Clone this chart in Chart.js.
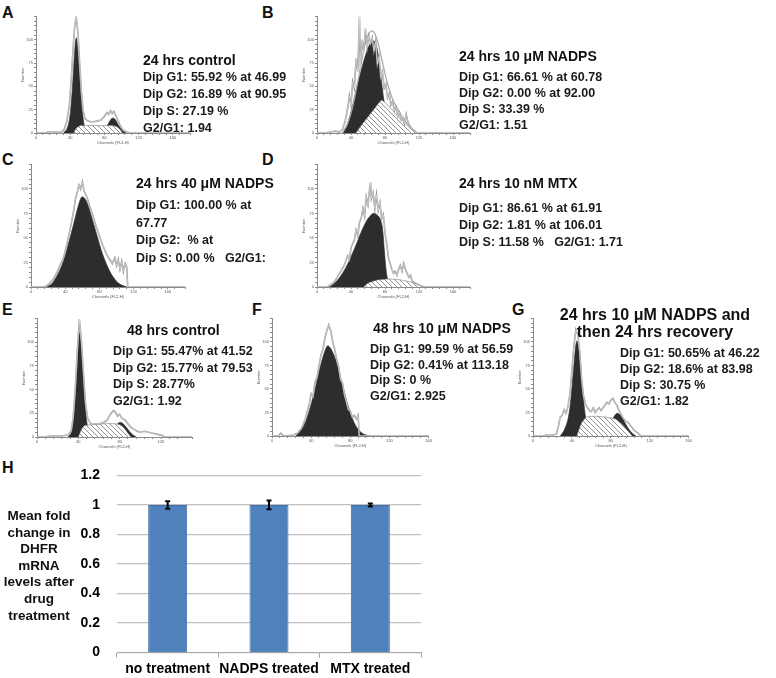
<!DOCTYPE html>
<html>
<head>
<meta charset="utf-8">
<script src="https://cdn.jsdelivr.net/npm/chart.js@4.4.0/dist/chart.umd.min.js"></script>
<style>
  body { margin: 0; background: #fff; }
  #fig { position: relative; width: 776px; height: 678px; overflow: hidden; font-family: "Liberation Sans", Arial, sans-serif; color: #111; }
  #fig canvas { position: absolute; }
  .lab { position: absolute; font-weight: bold; font-size: 16px; line-height: 16px; }
  .ttl { position: absolute; font-weight: bold; font-size: 14px; line-height: 14px; white-space: nowrap; }
  .txt { position: absolute; font-weight: bold; font-size: 12.5px; white-space: nowrap; color: #1a1a1a; }
  .ytitle { position: absolute; left: 0; width: 78px; top: 508px; text-align: center; font-weight: bold; font-size: 13.5px; line-height: 16.6px; }
</style>
</head>
<body>
<div id="fig">
  <div class="lab" style="left:2px;top:5px">A</div>
  <div class="lab" style="left:262px;top:5px">B</div>
  <div class="lab" style="left:2px;top:152px">C</div>
  <div class="lab" style="left:262px;top:152px">D</div>
  <div class="lab" style="left:2px;top:302px">E</div>
  <div class="lab" style="left:252px;top:302px">F</div>
  <div class="lab" style="left:512px;top:302px">G</div>
  <div class="lab" style="left:2px;top:460px">H</div>

  <canvas id="histA"></canvas>
  <canvas id="histB"></canvas>
  <canvas id="histC"></canvas>
  <canvas id="histD"></canvas>
  <canvas id="histE"></canvas>
  <canvas id="histF"></canvas>
  <canvas id="histG"></canvas>
  <canvas id="barH"></canvas>

  <div class="ttl" style="left:143px;top:53px">24 hrs control</div>
  <div class="txt" style="left:143px;top:69px;line-height:17px">Dip G1: 55.92 % at 46.99<br>Dip G2: 16.89 % at 90.95<br>Dip S: 27.19 %<br>G2/G1: 1.94</div>

  <div class="ttl" style="left:459px;top:49px">24 hrs 10 &mu;M NADPS</div>
  <div class="txt" style="left:459px;top:69px;line-height:16px">Dip G1: 66.61 % at 60.78<br>Dip G2: 0.00 % at 92.00<br>Dip S: 33.39 %<br>G2/G1: 1.51</div>

  <div class="ttl" style="left:136px;top:176px">24 hrs 40 &mu;M NADPS</div>
  <div class="txt" style="left:136px;top:197px;line-height:17.7px">Dip G1: 100.00 % at<br>67.77<br>Dip G2:&nbsp; % at<br>Dip S: 0.00 %&nbsp;&nbsp; G2/G1:</div>

  <div class="ttl" style="left:459px;top:176px">24 hrs 10 nM MTX</div>
  <div class="txt" style="left:459px;top:200px;line-height:17px">Dip G1: 86.61 % at 61.91<br>Dip G2: 1.81 % at 106.01<br>Dip S: 11.58 %&nbsp;&nbsp; G2/G1: 1.71</div>

  <div class="ttl" style="left:127px;top:323px">48 hrs control</div>
  <div class="txt" style="left:113px;top:343px;line-height:16.7px">Dip G1: 55.47% at 41.52<br>Dip G2: 15.77% at 79.53<br>Dip S: 28.77%<br>G2/G1: 1.92</div>

  <div class="ttl" style="left:373px;top:321px">48 hrs 10 &mu;M NADPS</div>
  <div class="txt" style="left:370px;top:342px;line-height:15.7px">Dip G1: 99.59 % at 56.59<br>Dip G2: 0.41% at 113.18<br>Dip S: 0 %<br>G2/G1: 2.925</div>

  <div class="ttl" style="left:536px;top:306px;width:238px;text-align:center;font-size:16px;line-height:17px">24 hrs 10 &mu;M NADPS and<br>then 24 hrs recovery</div>
  <div class="txt" style="left:620px;top:345px;line-height:16px">Dip G1: 50.65% at 46.22<br>Dip G2: 18.6% at 83.98<br>Dip S: 30.75 %<br>G2/G1: 1.82</div>

  <div class="ytitle">Mean fold<br>change in<br>DHFR<br>mRNA<br>levels after<br>drug<br>treatment</div>
</div>

<script>
// ---- DNA histograms: [channel, count] pairs ----
// A: 24 hrs control
var aTotal = [[0,0],[10,0],[14,1],[20,1],[26,1],[30,1],[33,4],[36,12],[39,30],[41,55],[43,85],[45,112],[47,125],[49,108],[51,75],[53,45],[55,25],[57,16],[60,13],[64,12],[68,12],[72,13],[76,14],[80,18],[83,22],[85,20],[87,24],[89,21],[91,23],[93,19],[96,13],[99,7],[102,3],[106,1],[110,0],[180,0]];
var aG1 = [[32,0],[36,4],[39,14],[41,30],[43,55],[45,85],[47,102],[49,88],[51,60],[53,34],[55,16],[57,6],[59,0]];
var aS = [[44,0],[47,5],[52,8],[60,8],[70,8],[80,8],[88,8],[94,7],[98,4],[101,0]];
var aG2 = [[78,0],[81,4],[84,9],[87,14],[90,16],[93,14],[96,9],[99,5],[102,2],[106,0]];

// B: 24 hrs 10 uM NADPS
var bTotal = [[0,0],[10,0],[16,1],[22,2],[26,1],[30,4],[33,12],[36,26],[38,40],[40,30],[42,55],[44,48],[46,80],[48,66],[50,125],[51,70],[53,100],[55,86],[57,112],[59,92],[61,104],[63,96],[65,102],[67,88],[69,98],[71,74],[73,82],[75,60],[77,66],[79,48],[81,52],[83,38],[85,42],[87,30],[89,34],[91,24],[93,28],[95,18],[97,22],[99,14],[101,16],[103,10],[105,20],[107,12],[109,8],[112,4],[115,1],[118,0],[180,0]];
var bFit = [[30,0],[36,10],[42,28],[48,55],[54,84],[58,100],[62,108],[66,109],[70,102],[74,88],[78,72],[82,56],[86,44],[90,34],[96,24],[102,15],[108,8],[114,3],[118,0]];
var bG1 = [[30,0],[34,6],[38,16],[42,30],[46,46],[50,60],[54,74],[58,86],[62,95],[66,99],[69,96],[72,84],[75,62],[78,40],[81,22],[84,8],[87,0]];
var bS = [[46,0],[52,8],[58,15],[64,22],[70,29],[76,35],[82,31],[88,25],[94,19],[100,13],[106,8],[112,3],[117,0]];

// C: 24 hrs 40 uM NADPS
var cTotal = [[0,0],[14,0],[18,1],[22,4],[26,8],[30,14],[34,22],[38,30],[42,44],[46,60],[50,78],[52,90],[54,96],[56,104],[58,100],[60,107],[62,98],[64,94],[66,90],[68,84],[72,74],[76,62],[80,52],[84,42],[88,34],[92,28],[95,24],[98,30],[100,22],[102,28],[104,18],[106,26],[108,16],[110,24],[112,20],[113,0],[180,0]];
var cG1 = [[18,0],[24,3],[28,8],[32,14],[36,22],[40,32],[44,45],[48,58],[52,72],[55,82],[58,90],[60,92],[63,90],[66,85],[70,74],[74,62],[78,50],[82,38],[86,28],[90,20],[94,13],[98,8],[102,4],[106,2],[112,0]];

// D: 24 hrs 10 nM MTX
var dTotal = [[0,0],[12,0],[16,2],[20,5],[24,10],[28,16],[32,22],[36,32],[38,28],[40,40],[44,48],[46,58],[48,52],[50,66],[52,70],[54,80],[56,72],[58,92],[60,84],[62,100],[63,107],[64,90],[66,96],[68,80],[70,94],[72,78],[74,86],[76,70],[78,74],[80,55],[82,44],[84,30],[86,24],[88,18],[90,14],[92,16],[94,12],[96,18],[98,22],[100,16],[102,24],[104,18],[106,14],[108,10],[110,12],[112,6],[116,4],[120,2],[125,0],[180,0]];
var dG1 = [[14,0],[18,2],[22,5],[26,9],[30,14],[34,20],[38,27],[42,35],[46,43],[50,52],[54,60],[58,67],[62,72],[66,75],[70,74],[74,70],[77,60],[79,40],[81,20],[83,8],[86,2],[90,0]];
var dS = [[55,0],[60,4],[70,7],[80,8],[90,8],[100,7],[110,5],[120,2],[128,0]];
var dG2 = [[100,0],[106,1],[110,2],[116,1],[122,0]];

// E: 48 hrs control
var eTotal = [[0,0],[8,0],[12,1],[18,1],[24,1],[30,2],[33,6],[35,20],[37,50],[39,90],[41,124],[43,100],[45,66],[47,35],[49,20],[52,14],[56,14],[60,14],[64,15],[68,18],[71,24],[74,28],[76,26],[78,22],[80,24],[82,20],[85,18],[88,14],[91,10],[94,8],[97,6],[100,5],[104,6],[108,5],[112,4],[116,3],[120,2],[124,0],[150,0]];
var eG1 = [[30,0],[33,4],[35,15],[37,40],[39,75],[41,110],[43,95],[45,60],[47,28],[49,10],[51,3],[53,0]];
var eS = [[40,0],[43,8],[46,12],[55,13],[65,14],[75,14],[80,13],[84,10],[88,4],[91,0]];
var eG2 = [[68,0],[72,4],[76,10],[79,15],[82,15],[85,12],[88,8],[92,3],[96,0]];

// F: 48 hrs 10 uM NADPS
var fTotal = [[0,0],[6,0],[9,3],[12,0],[22,1],[26,3],[30,8],[34,18],[38,34],[40,45],[42,42],[44,58],[46,62],[48,75],[50,86],[52,92],[54,104],[56,112],[58,118],[60,112],[62,100],[64,92],[66,82],[68,74],[70,60],[72,56],[74,44],[76,36],[78,28],[80,26],[82,20],[84,22],[86,18],[88,22],[89,0],[160,0]];
var fG1 = [[24,0],[28,4],[32,10],[36,20],[40,34],[44,50],[48,68],[52,84],[55,93],[57,96],[60,93],[64,84],[68,70],[72,54],[76,38],[80,25],[84,14],[88,7],[92,3],[96,1],[100,0]];

// G: 24 hrs NADPS then 24 hrs recovery
var gTotal = [[0,0],[10,0],[14,1],[20,1],[24,2],[26,10],[28,20],[30,22],[32,28],[34,24],[36,32],[38,45],[40,70],[42,95],[44,113],[46,108],[48,90],[50,60],[52,42],[54,34],[56,30],[58,27],[60,26],[62,30],[64,25],[66,28],[68,30],[70,27],[72,30],[74,33],[76,36],[78,34],[80,38],[82,40],[84,36],[86,33],[88,28],[90,24],[92,20],[95,16],[98,14],[101,10],[104,6],[108,3],[111,0],[160,0]];
var gG1 = [[28,0],[32,6],[36,18],[39,40],[42,75],[45,101],[48,85],[50,60],[52,38],[54,20],[56,8],[58,2],[60,0]];
var gS = [[45,0],[50,14],[55,20],[65,21],[75,20],[85,18],[92,12],[98,5],[102,0]];
var gG2 = [[74,0],[78,8],[82,18],[86,24],[90,22],[94,15],[98,8],[102,3],[106,0]];

// ---- H: DHFR mRNA bar chart ----
var hCategories = ['no treatment', 'NADPS treated', 'MTX treated'];
var hMeans = [1, 1, 1];
var hErrors = [0.025, 0.03, 0.01];
var hTicks = [0, 0.2, 0.4, 0.6, 0.8, 1, 1.2];

Chart.defaults.font.family = '"Liberation Sans", Arial, sans-serif';
Chart.defaults.animation = false;

// diagonal hatch used for the S phase
function makeHatch() {
  var c = document.createElement('canvas');
  c.width = 5; c.height = 5;
  var g = c.getContext('2d');
  g.fillStyle = '#ffffff';
  g.fillRect(0, 0, 5, 5);
  g.strokeStyle = '#858585';
  g.lineWidth = 0.9;
  g.beginPath();
  g.moveTo(0, 0); g.lineTo(5, 5);
  g.moveTo(-1, 4); g.lineTo(1, 6);
  g.moveTo(4, -1); g.lineTo(6, 1);
  g.stroke();
  return g.createPattern(c, 'repeat');
}
var hatch = makeHatch();

function lineSet(data, color, width, tension) {
  return { data: data, borderColor: color, borderWidth: width, fill: false, pointRadius: 0, tension: tension || 0 };
}
function areaSet(data, bg, border, tension) {
  return { data: data, borderColor: border, borderWidth: 0.6, backgroundColor: bg, fill: 'origin', pointRadius: 0, tension: tension || 0 };
}

function histChart(id, frame, xMax, layers) {
  var padT = 2, padR = 2, yW = 16, xH = 12;
  var cv = document.getElementById(id);
  cv.width = frame.right - frame.x0 + yW + padR;
  cv.height = frame.bottom - frame.top + padT + xH;
  cv.style.left = (frame.x0 - yW) + 'px';
  cv.style.top = (frame.top - padT) + 'px';

  // first dataset is drawn on top
  var sets = [lineSet(layers.total, '#f2f2f2', 0.5), lineSet(layers.total, '#959595', 1.6)];
  if (layers.fit) sets.push(lineSet(layers.fit, '#a8a8a8', 1.2, 0.4));
  if (layers.s) sets.push(areaSet(layers.s, hatch, '#7a7a7a', 0.2));
  if (layers.g1) sets.push(areaSet(layers.g1, '#2d2d2d', '#2d2d2d', 0.35));
  if (layers.g2) sets.push(areaSet(layers.g2, '#2d2d2d', '#2d2d2d', 0.35));

  new Chart(cv, {
    type: 'line',
    data: { datasets: sets },
    options: {
      responsive: false,
      layout: { padding: { top: padT, right: padR, left: 0, bottom: 0 } },
      plugins: { legend: { display: false }, tooltip: { enabled: false } },
      scales: {
        x: {
          type: 'linear', min: 0, max: xMax,
          afterFit: function (s) { s.height = xH; },
          border: { color: '#8a8a8a', width: 1 },
          grid: { drawOnChartArea: false, drawTicks: true, tickLength: 2, color: '#8a8a8a' },
          ticks: {
            stepSize: 8, autoSkip: false, maxRotation: 0, padding: 0,
            font: { size: 4 }, color: '#555',
            callback: function (v) { return v % 40 === 0 ? v : ''; }
          },
          title: { display: true, text: 'Channels (FL2-H)', font: { size: 4 }, color: '#555', padding: 0 }
        },
        y: {
          min: 0, max: 125,
          afterFit: function (s) { s.width = yW; },
          border: { color: '#8a8a8a', width: 1 },
          grid: { drawOnChartArea: false, drawTicks: true, tickLength: 2, color: '#8a8a8a' },
          ticks: {
            stepSize: 5, autoSkip: false, padding: 1,
            font: { size: 4 }, color: '#555',
            callback: function (v) { return v % 25 === 0 && v < 125 ? v : ''; }
          },
          title: { display: true, text: 'Number', font: { size: 4 }, color: '#555', padding: 0 }
        }
      }
    }
  });
}

histChart('histA', { x0: 36, top: 15, right: 190, bottom: 133 }, 180, { total: aTotal, s: aS, g1: aG1, g2: aG2 });
histChart('histB', { x0: 317, top: 15, right: 470, bottom: 133 }, 180, { total: bTotal, fit: bFit, s: bS, g1: bG1 });
histChart('histC', { x0: 31, top: 163, right: 185, bottom: 287 }, 180, { total: cTotal, g1: cG1 });
histChart('histD', { x0: 317, top: 163, right: 470, bottom: 287 }, 180, { total: dTotal, s: dS, g1: dG1, g2: dG2 });
histChart('histE', { x0: 37, top: 317, right: 192, bottom: 437 }, 150, { total: eTotal, s: eS, g1: eG1, g2: eG2 });
histChart('histF', { x0: 272, top: 317, right: 430, bottom: 436 }, 160, { total: fTotal, g1: fG1 });
histChart('histG', { x0: 533, top: 317, right: 690, bottom: 436 }, 160, { total: gTotal, s: gS, g1: gG1, g2: gG2 });

// error bars drawn from the y scale
var errorBars = {
  id: 'errorBars',
  afterDatasetsDraw: function (chart) {
    var ctx = chart.ctx;
    var y = chart.scales.y;
    var meta = chart.getDatasetMeta(0);
    ctx.save();
    ctx.strokeStyle = '#000';
    ctx.lineWidth = 2;
    meta.data.forEach(function (bar, i) {
      var top = y.getPixelForValue(hMeans[i] + hErrors[i]);
      var bot = y.getPixelForValue(hMeans[i] - hErrors[i]);
      ctx.beginPath();
      ctx.moveTo(bar.x, top); ctx.lineTo(bar.x, bot);
      ctx.moveTo(bar.x - 2.5, top); ctx.lineTo(bar.x + 2.5, top);
      ctx.moveTo(bar.x - 2.5, bot); ctx.lineTo(bar.x + 2.5, bot);
      ctx.stroke();
    });
    ctx.restore();
  }
};

var hc = document.getElementById('barH');
hc.width = 430; hc.height = 228;
hc.style.left = '0px'; hc.style.top = '450px';
new Chart(hc, {
  type: 'bar',
  data: {
    labels: hCategories,
    datasets: [{
      data: hMeans,
      backgroundColor: '#4f81bd',
      borderColor: '#3f6fa6',
      borderWidth: 1,
      barPercentage: 0.385,
      categoryPercentage: 1
    }]
  },
  options: {
    responsive: false,
    layout: { padding: { top: 24, right: 9, left: 0, bottom: 0 } },
    plugins: { legend: { display: false }, tooltip: { enabled: false } },
    scales: {
      x: {
        afterFit: function (s) { s.height = 24; },
        border: { color: '#a6a6a6', width: 1 },
        grid: { offset: true, drawOnChartArea: false, drawTicks: true, tickLength: 5, color: '#a6a6a6' },
        ticks: { font: { size: 14, weight: 'bold' }, color: '#000', padding: 3, maxRotation: 0, autoSkip: false }
      },
      y: {
        min: 0, max: 1.2,
        afterFit: function (s) { s.width = 117; },
        afterBuildTicks: function (s) { s.ticks = hTicks.map(function (v) { return { value: v }; }); },
        border: { display: false },
        grid: { color: '#c0c0c0', lineWidth: 1.2, drawTicks: false },
        ticks: {
          font: { size: 14, weight: 'bold' }, color: '#000', padding: 17,
          callback: function (v) { return String(Math.round(v * 10) / 10); }
        }
      }
    }
  },
  plugins: [errorBars]
});
</script>
</body>
</html>
